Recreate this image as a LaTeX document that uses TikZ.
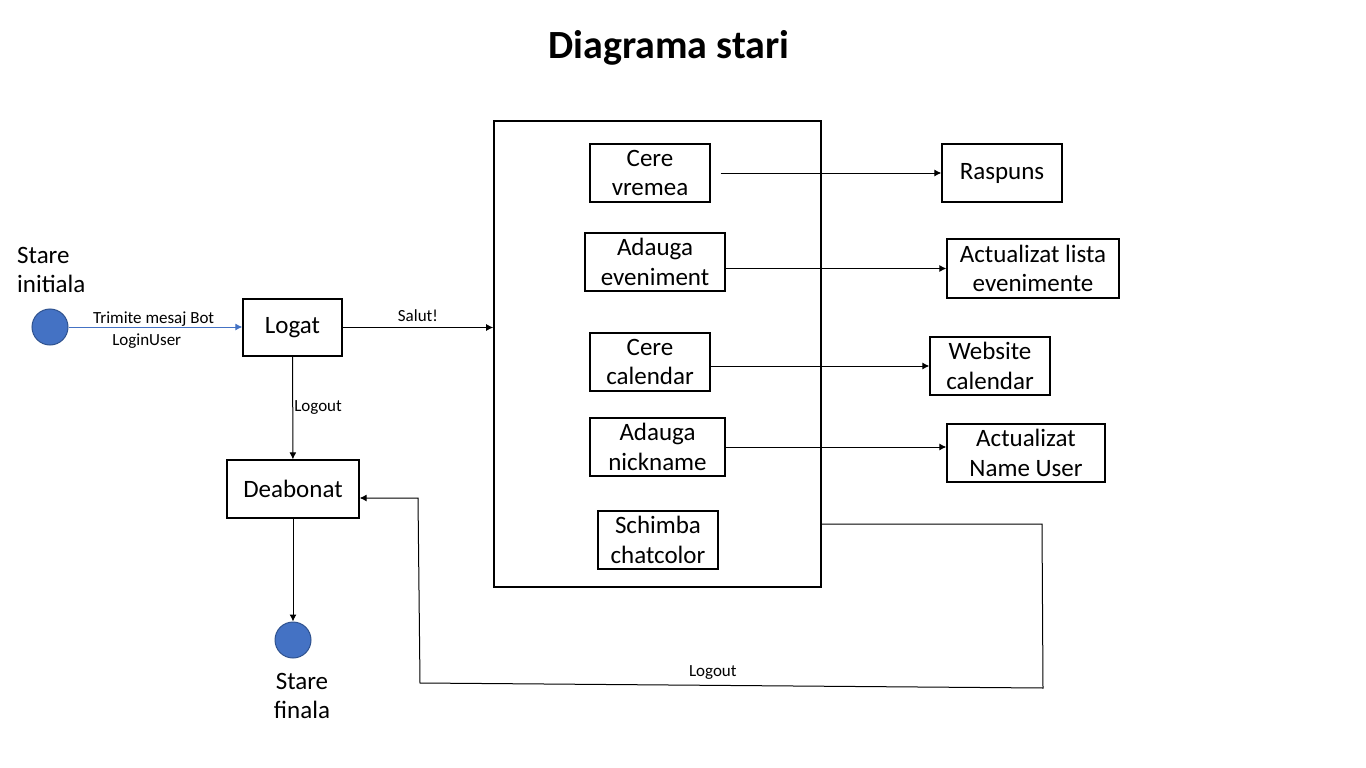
\documentclass[tikz,border=0pt]{standalone}
\usepackage{fontspec}
\setmainfont{Carlito}
\usetikzlibrary{arrows.meta,positioning}

\definecolor{stateblue}{HTML}{4472C4}
\definecolor{stateedge}{HTML}{2F528F}

\begin{document}
\begin{tikzpicture}[x=1pt,y=-1pt,
  box/.style={draw=black,line width=1.3pt,align=center,inner sep=0pt,
    font=\fontsize{25}{29.5}\selectfont},
  dot/.style={circle,fill=stateblue,draw=stateedge,line width=1pt,minimum size=36pt,inner sep=0pt},
  lbl/.style={font=\fontsize{17}{20}\selectfont,inner sep=0pt},
  big/.style={font=\fontsize{25}{29.5}\selectfont,align=left,inner sep=0pt},
  arr/.style={-{Latex[length=7pt,width=7pt]},line width=1pt}]
\useasboundingbox (0,0) rectangle (1366,768);
\fill[white] (0,0) rectangle (1366,768);
% title
\node[font=\bfseries\fontsize{40}{46}\selectfont] (title) at (669,48) {Diagrama stari};
% left part
\node[big,anchor=north west] (initlbl) at (17,247) {Stare\\initiala};
\node[dot] (start) at (50,327) {};
\node[box,minimum width=99pt,minimum height=57pt] (logat) at (292.5,327.5) {Logat};
\node[box,minimum width=132pt,minimum height=58pt] (deabonat) at (293,489) {Deabonat};
\node[dot] (final) at (293,640) {};
\node[big,align=center,anchor=north] (finallbl) at (302,673) {Stare\\finala};
% container with actions
\node[draw=black,line width=1.6pt,minimum width=327pt,minimum height=466pt,inner sep=0pt] (container) at (657.5,354) {};
\node[box,minimum width=120pt,minimum height=58pt] (vremea) at (650,173) {Cere\\vremea};
\node[box,minimum width=140pt,minimum height=58pt] (eveniment) at (655,262) {Adauga\\eveniment};
\node[box,minimum width=120pt,minimum height=58pt] (calendar) at (650,362) {Cere\\calendar};
\node[box,minimum width=135pt,minimum height=58pt] (nickname) at (657.5,447) {Adauga\\nickname};
\node[box,minimum width=120pt,minimum height=58pt] (chatcolor) at (658,540) {Schimba\\chatcolor};
% results
\node[box,minimum width=120pt,minimum height=58pt] (raspuns) at (1002,173) {Raspuns};
\node[box,minimum width=172pt,minimum height=59pt] (lista) at (1033,268.5) {Actualizat lista\\evenimente};
\node[box,minimum width=120pt,minimum height=58pt] (website) at (990,366) {Website\\calendar};
\node[box,minimum width=158pt,minimum height=58pt] (nameuser) at (1026,453) {Actualizat\\Name User};
% transitions
\draw[arr,draw=stateblue,fill=stateblue] (start) -- (logat.west |- start)
  node[lbl,pos=0.49,above=0pt] {Trimite mesaj Bot}
  node[lbl,pos=0.45,below=6pt] {LoginUser};
\draw[arr] (logat.east) -- (container.west |- logat.east)
  node[lbl,midway,above=5pt] {Salut!};
\draw[arr] (logat) -- (deabonat) node[lbl,midway,right=1pt] {Logout};
\draw[arr] (deabonat) -- (final);
\draw[arr] ([xshift=10pt]vremea.east) -- (raspuns.west);
\draw[arr] (lista.west -| eveniment.east) -- (lista.west);
\draw[arr] (website.west -| calendar.east) -- (website.west);
\draw[arr] (nickname.east) -- (nickname.east -| nameuser.west);
% logout back to deabonat
\coordinate (r1) at (1042,524);
\coordinate (r2) at (1043,688);
\coordinate (r3) at (420,683);
\coordinate (r4) at (418,498);
\draw[arr] (container.east |- r1) -- (r1) -- (r2) -- (r3)
  node[lbl,pos=0.53,above=5pt] {Logout} -- (r4) -- (deabonat.east |- r4);
\end{tikzpicture}
\end{document}
